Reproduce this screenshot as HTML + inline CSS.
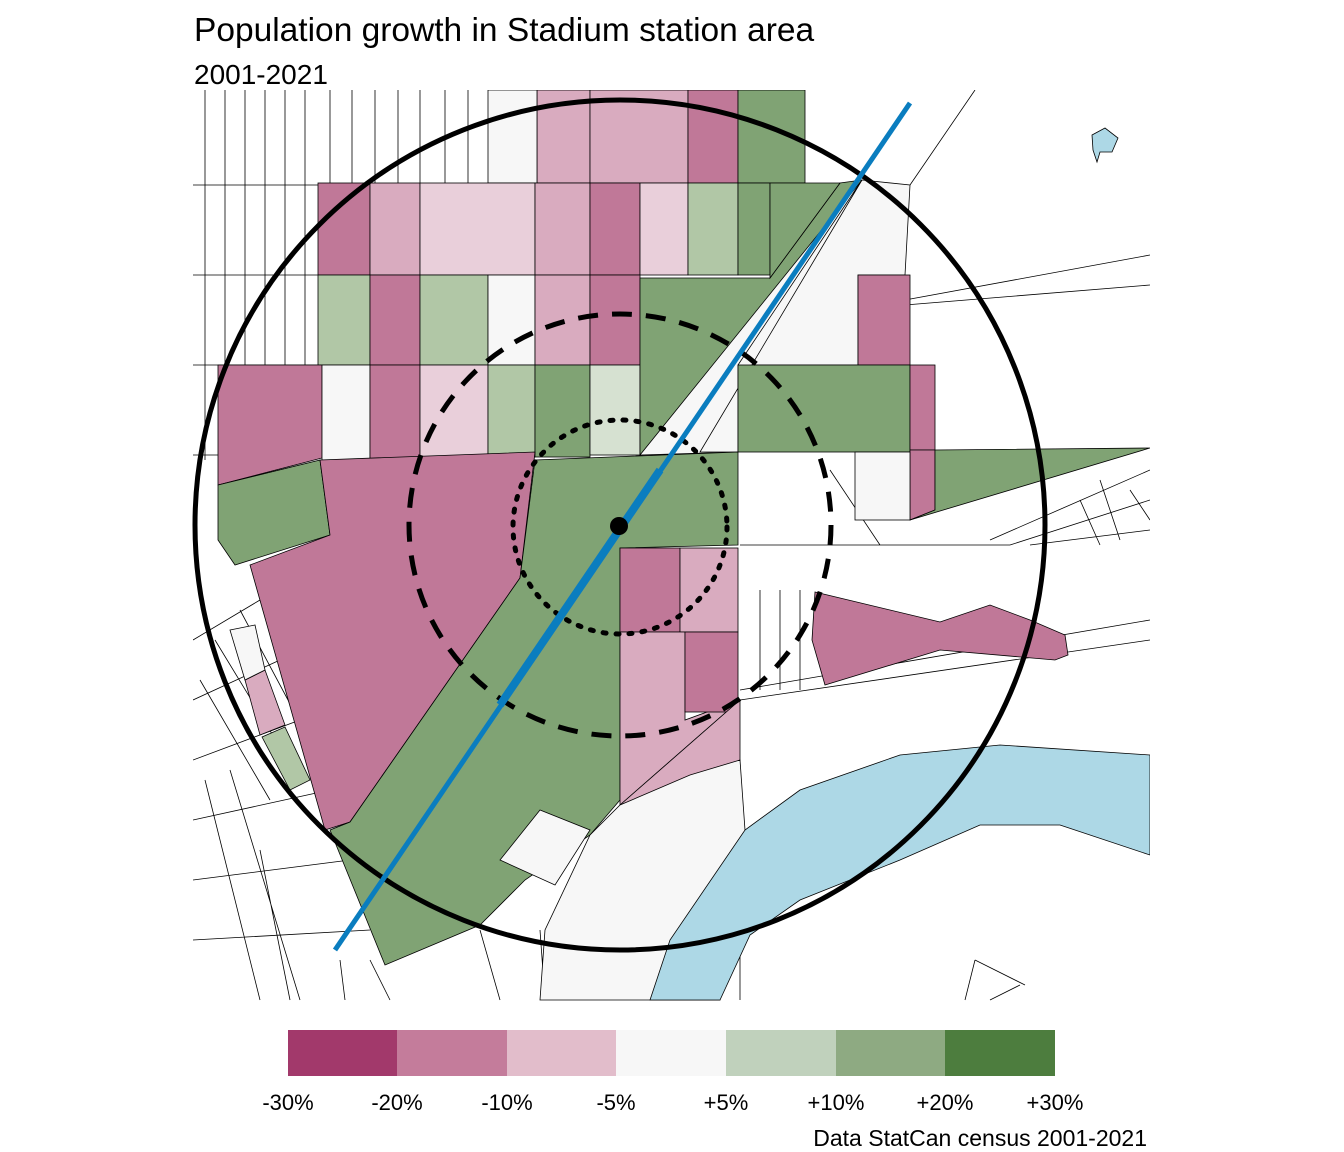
<!DOCTYPE html>
<html><head><meta charset="utf-8"><style>
html,body{margin:0;padding:0;background:#fff;}
svg{display:block;font-family:"Liberation Sans",Arial,sans-serif;}
</style></head><body>
<svg width="1344" height="1152" viewBox="0 0 1344 1152" xmlns="http://www.w3.org/2000/svg">
<rect width="1344" height="1152" fill="#fff"/>
<text x="194" y="41" font-size="33.5" fill="#000">Population growth in Stadium station area</text>
<text x="194" y="84" font-size="28" fill="#000">2001-2021</text>
<defs><clipPath id="m"><rect x="193" y="90" width="957" height="911"/></clipPath></defs>
<g clip-path="url(#m)" stroke="#000" stroke-width="0.8">
<g fill="none">
<path d="M205 90V460M225 90V370M245 90V370M265 90V460M285 90V370M305 90V370M193 185H540M193 275H640M193 365H640M193 455H322"/>
<path d="M330 90V183M352 90V183M375 90V183M398 90V183M420 90V183M445 90V183M468 90V183M490 90V183M515 90V183"/>
<path d="M193 640L260 600M193 700L280 660M193 760L300 720M193 820L330 790M193 880L350 860M193 940L370 930M200 680L270 800M215 640L300 780M240 610L320 760M205 780L260 1000M230 770L300 1000M260 850L290 1000M340 960L345 1000M370 960L390 1000"/>
<path d="M910 185L975 90M905 300L1150 255M905 305L1150 285M1150 470L990 540M1150 500L1010 545M1150 530L1030 545M1100 480L1120 540M1080 500L1100 545M1130 490L1150 520M975 960L965 1000M975 960L1025 985M990 1000L1020 985M480 930L500 1000M540 930L545 1000"/>
<path d="M740 545L1010 545M740 760V1000M740 690L1150 620M740 700L1150 640M760 590V690M780 590V690M800 590V690M855 450L910 520M830 470L880 545M660 930L740 830"/>
</g>
<g>
<rect x="537" y="90" width="53" height="93" fill="#D9ABBF"/>
<rect x="590" y="90" width="98" height="93" fill="#D9ABBF"/>
<rect x="688" y="90" width="50" height="93" fill="#C07898"/>
<rect x="738" y="90" width="67" height="93" fill="#80A374"/>
<rect x="488" y="90" width="49" height="93" fill="#F7F7F7"/>
<rect x="318" y="183" width="52" height="92" fill="#C07898"/>
<rect x="370" y="183" width="50" height="92" fill="#D9ABBF"/>
<rect x="420" y="183" width="115" height="92" fill="#E9CFDA"/>
<rect x="535" y="183" width="55" height="92" fill="#D9ABBF"/>
<rect x="590" y="183" width="50" height="92" fill="#C07898"/>
<rect x="640" y="183" width="48" height="92" fill="#E9CFDA"/>
<rect x="688" y="183" width="50" height="92" fill="#B1C7A6"/>
<rect x="738" y="183" width="32" height="92" fill="#80A374"/>
<rect x="318" y="275" width="52" height="90" fill="#B1C7A6"/>
<rect x="370" y="275" width="50" height="90" fill="#C07898"/>
<rect x="420" y="275" width="68" height="90" fill="#B1C7A6"/>
<rect x="488" y="275" width="47" height="90" fill="#F7F7F7"/>
<rect x="535" y="275" width="55" height="90" fill="#D9ABBF"/>
<rect x="590" y="275" width="50" height="90" fill="#C07898"/>
<polygon points="218,365 322,365 322,458 218,485" fill="#C07898"/>
<rect x="322" y="365" width="48" height="95" fill="#F7F7F7"/>
<rect x="370" y="365" width="50" height="95" fill="#C07898"/>
<rect x="420" y="365" width="68" height="95" fill="#E9CFDA"/>
<rect x="488" y="365" width="47" height="92" fill="#B1C7A6"/>
<rect x="535" y="365" width="55" height="92" fill="#80A374"/>
<rect x="590" y="365" width="50" height="90" fill="#D6E1D1"/>
<polygon points="640,278 770,278 840,183 862,180 738,365 738,452 640,455" fill="#80A374"/>
<polygon points="770,183 805,183 840,183 770,278" fill="#80A374"/>
<polygon points="862,180 910,185 905,275 858,275 858,365 740,365 738,452 640,455" fill="#F7F7F7"/>
<polygon points="862,180 738,365 738,452 700,452" fill="#F7F7F7"/>
<rect x="858" y="275" width="52" height="90" fill="#C07898"/>
<rect x="738" y="365" width="172" height="87" fill="#80A374"/>
<rect x="910" y="365" width="25" height="85" fill="#C07898"/>
<polygon points="910,450 935,450 935,510 910,520" fill="#C07898"/>
<polygon points="935,450 1150,448 910,520 935,510" fill="#80A374"/>
<rect x="855" y="452" width="55" height="68" fill="#F7F7F7"/>
<polygon points="218,485 320,460 330,535 235,565 218,540" fill="#80A374"/>
<polygon points="320,460 535,452 520,578 350,822 325,830 250,565 330,535" fill="#C07898"/>
<polygon points="520,578 535,460 738,452 738,545 620,548 620,800 590,835 525,880 480,925 385,965 330,830 350,822" fill="#80A374"/>
<rect x="620" y="548" width="60" height="84" fill="#C07898"/>
<rect x="680" y="548" width="58" height="84" fill="#D9ABBF"/>
<polygon points="620,632 685,632 685,720 740,700 620,805" fill="#D9ABBF"/>
<rect x="685" y="632" width="53" height="80" fill="#C07898"/>
<polygon points="620,805 740,700 740,760 620,810" fill="#D9ABBF"/>
<polygon points="620,805 690,775 740,760 745,830 720,1000 540,1000 545,930 590,835" fill="#F7F7F7"/>
<polygon points="500,860 540,810 590,830 555,885" fill="#F7F7F7"/>
<polygon points="245,680 265,670 285,725 260,735" fill="#D9ABBF"/>
<polygon points="262,737 285,727 310,780 290,790" fill="#B1C7A6"/>
<polygon points="230,630 255,625 265,670 245,680" fill="#F7F7F7"/>
<polygon points="815,592 940,622 990,605 1030,620 1065,635 1068,655 1055,660 940,650 825,685 812,640" fill="#C07898"/>
<polygon points="650,1000 670,940 745,830 800,790 900,755 1000,745 1150,755 1150,855 1060,825 980,825 900,860 800,900 750,935 720,1000" fill="#ADD8E6"/>
<polygon points="1092,135 1105,128 1118,138 1112,152 1100,152 1097,162 1093,150" fill="#ADD8E6"/>
</g>
</g>
<circle cx="620" cy="525" r="425" fill="none" stroke="#000" stroke-width="5"/>
<circle cx="620" cy="525" r="211" fill="none" stroke="#000" stroke-width="5" stroke-dasharray="20,14"/>
<circle cx="620" cy="527" r="107" fill="none" stroke="#000" stroke-width="5" stroke-dasharray="3,10" stroke-linecap="round"/>
<line x1="335" y1="950" x2="910" y2="103" stroke="#0A7DBF" stroke-width="5"/>
<line x1="500" y1="705" x2="660" y2="470" stroke="#0A7DBF" stroke-width="8"/>
<circle cx="619" cy="526" r="9" fill="#000"/>
<rect x="288" y="1030" width="110" height="46" fill="#A2396B"/>
<rect x="397" y="1030" width="110" height="46" fill="#C47C9B"/>
<rect x="507" y="1030" width="110" height="46" fill="#E2BDCB"/>
<rect x="616" y="1030" width="110" height="46" fill="#F7F7F7"/>
<rect x="726" y="1030" width="110" height="46" fill="#C0D1BC"/>
<rect x="836" y="1030" width="110" height="46" fill="#8EAA82"/>
<rect x="945" y="1030" width="110" height="46" fill="#4D7D3E"/>
<g font-size="22" text-anchor="middle" fill="#000">
<text x="288" y="1110">-30%</text><text x="397" y="1110">-20%</text><text x="507" y="1110">-10%</text><text x="616" y="1110">-5%</text>
<text x="726" y="1110">+5%</text><text x="836" y="1110">+10%</text><text x="945" y="1110">+20%</text><text x="1055" y="1110">+30%</text>
</g>
<text x="1147" y="1146" font-size="23" text-anchor="end" fill="#000">Data StatCan census 2001-2021</text>
</svg>
</body></html>
